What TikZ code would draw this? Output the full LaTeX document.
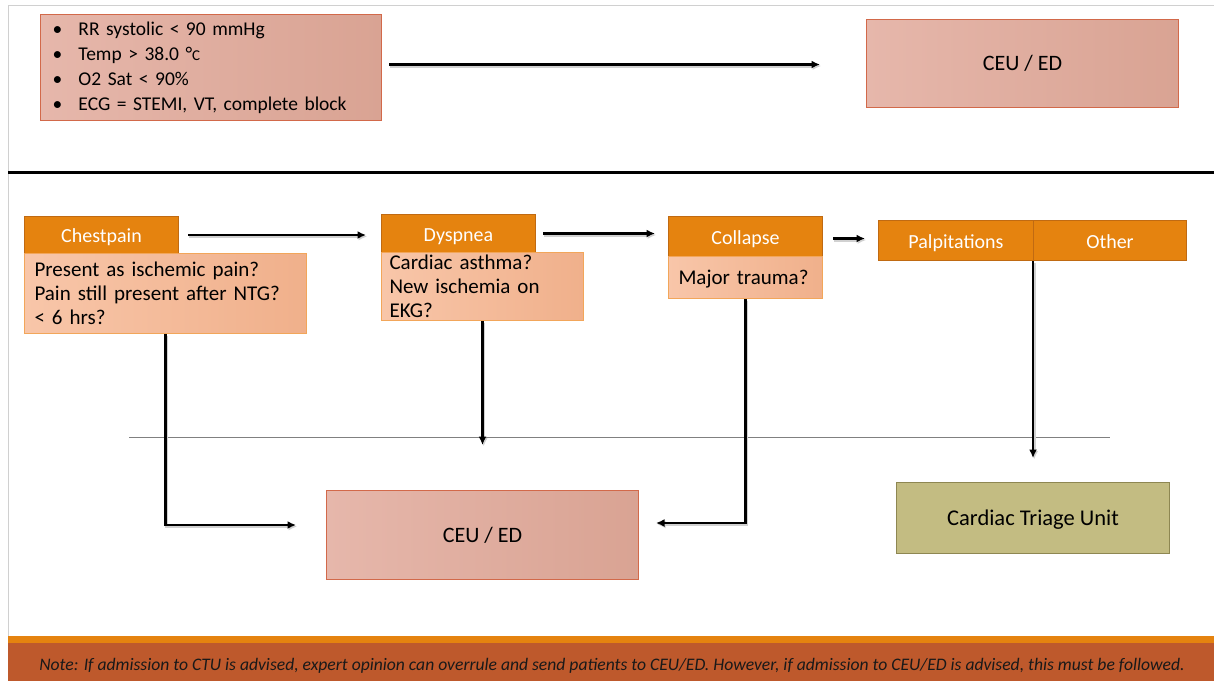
\documentclass[tikz,border=0pt]{standalone}
\usepackage{fontspec}
\setmainfont{Carlito}
\usetikzlibrary{arrows.meta,calc}
\definecolor{hdr}{HTML}{E5830F}
\definecolor{hdrline}{HTML}{C06A12}
\definecolor{redL}{HTML}{E6B7AB}
\definecolor{redR}{HTML}{D9A393}
\definecolor{redline}{HTML}{D2694A}
\definecolor{bodyL}{HTML}{F8C6A9}
\definecolor{bodyR}{HTML}{F0B08B}
\definecolor{bodyline}{HTML}{F2A65A}
\definecolor{ctufill}{HTML}{C3BC82}
\definecolor{ctuline}{HTML}{8E8752}
\definecolor{footc}{HTML}{BE592C}
\definecolor{framec}{HTML}{D0D0D0}
\tikzset{
  redbox/.style={draw=redline, line width=1pt, left color=redL, right color=redR, inner sep=0pt, anchor=north west, font=\fontsize{22}{25}\selectfont},
  hdrbox/.style={draw=hdrline, line width=1pt, fill=hdr, text=white, inner sep=0pt, anchor=north west, font=\fontsize{20}{24}\selectfont, text height=17pt, text depth=2pt},
  bodybox/.style={draw=bodyline, line width=1pt, left color=bodyL, right color=bodyR, inner sep=0pt, anchor=north west, font=\fontsize{21}{24}\selectfont, align=left},
  ctubox/.style={draw=ctuline, line width=1pt, fill=ctufill, inner sep=0pt, anchor=north west, font=\fontsize{22.5}{24}\selectfont},
  arr/.style={line width=2.2pt, -{Latex[length=8.5pt,width=8pt]}, preaction={draw=black!18, line width=3pt, transform canvas={xshift=1.2pt,yshift=-1.5pt}}},
}
\begin{document}
\begin{tikzpicture}[x=1pt,y=1pt]
\useasboundingbox (0,0) rectangle (1214,-681);
\fill[white] (0,0) rectangle (1214,-681);
% frame
\draw[framec, line width=1pt] (8,-5) -- (1214,-5);
\draw[framec, line width=1pt] (8,-5) -- (8,-636);
% thick separator
\draw[line width=3pt] (8,-172) -- (1214,-172);
% thin gray line
\coordinate (gl) at (129,-437);
\coordinate (gr) at (1110,-437);
\draw[black!50, line width=0.8pt] (gl) -- (gr);

% top row
\node[redbox, minimum width=341, minimum height=106, text width=317, align=left, font=\fontsize{19.5}{25}\selectfont] (crit) at (40,-14) {%
\makebox[26pt][l]{\textbullet}RR systolic < 90 mmHg\\
\makebox[26pt][l]{\textbullet}Temp > 38.0 \textdegree{\fontsize{15}{25}\selectfont C}\\
\makebox[26pt][l]{\textbullet}O2 Sat < 90\%\\
\makebox[26pt][l]{\textbullet}ECG = STEMI, VT, complete block};
\node[redbox, minimum width=312, minimum height=88] (ceu1) at (866,-19) {CEU / ED};

% second row
\node[hdrbox, minimum width=154, minimum height=37] (cp) at (24,-216) {Chestpain};
\node[bodybox, minimum width=282, minimum height=80, text width=262] (cpb) at (24,-253) {Present as ischemic pain?\\Pain still present after NTG?\\< 6 hrs?};
\node[hdrbox, minimum width=154, minimum height=38] (dy) at (381,-214) {Dyspnea};
\node[bodybox, minimum width=202, minimum height=68, text width=186] (dyb) at (381,-252) {Cardiac asthma?\\New ischemia on\\EKG?};
\node[hdrbox, minimum width=154, minimum height=40] (co) at (668,-216) {Collapse};
\node[bodybox, minimum width=154, minimum height=42, text width=134] (cob) at (668,-256) {\raisebox{-2pt}[\height][\depth]{Major trauma?}};
\node[hdrbox, minimum width=155, minimum height=40] (pa) at (878,-220) {Palpitations};
\node[hdrbox, minimum width=153, minimum height=40] (ot) at (1033,-220) {Other};

% targets
\node[redbox, minimum width=312, minimum height=89] (ceu2) at (326,-490) {CEU / ED};
\node[ctubox, minimum width=273, minimum height=71] (ctu) at (896,-482) {\raisebox{-2pt}[\height][\depth]{Cardiac Triage Unit}};

% arrows
\draw[arr] ([xshift=7,yshift=3]crit.east) -- ([xshift=-46,yshift=3]crit.east -| ceu1.west);
\draw[arr] ([xshift=9]cp.east) -- ([xshift=-15]cp.east -| dy.west);
\draw[arr] ([xshift=7]dy.east) -- ([xshift=-13]dy.east -| co.west);
\draw[arr] ([xshift=10,yshift=-2]co.east) -- ([xshift=-13,yshift=-2]co.east -| pa.west);
\draw[arr] (cpb.south) |- ([xshift=-30,yshift=10]ceu2.west);
\draw[arr] (dyb.south) -- ([yshift=45]ceu2.north -| dyb.south);
\draw[arr] (cob.south) |- ([xshift=17,yshift=12]ceu2.east);
\draw[arr] (ot.south west) -- ([yshift=24]ctu.north -| ot.south west);

% footer
\fill[hdr] (8,-636) rectangle (1214,-643);
\fill[footc] (8,-643) rectangle (1214,-681);
\node[font=\fontsize{17.6}{20}\selectfont\itshape, text=black!90] (note) at (612,-666) {Note: If admission to CTU is advised, expert opinion can overrule and send patients to CEU/ED. However, if admission to CEU/ED is advised, this must be followed.};
\end{tikzpicture}
\end{document}
